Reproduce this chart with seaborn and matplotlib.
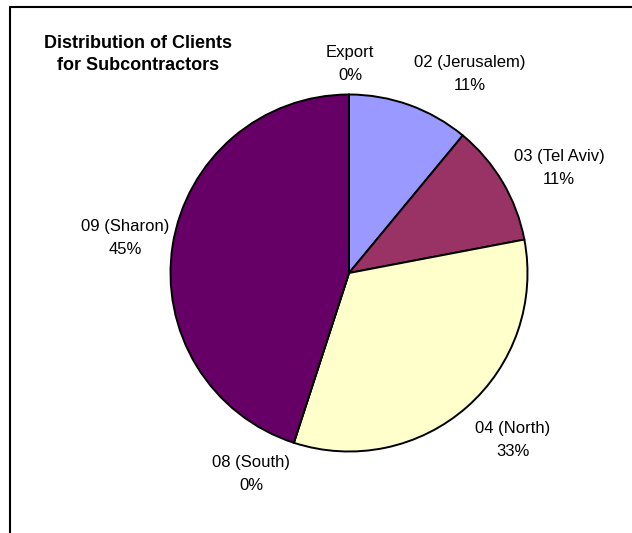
import matplotlib
matplotlib.use("Agg")
import matplotlib.pyplot as plt
import seaborn as sns
from matplotlib.lines import Line2D

# ---- data ----
categories = ["02 (Jerusalem)", "03 (Tel Aviv)", "04 (North)", "08 (South)", "09 (Sharon)", "Export"]
shares = [11, 11, 33, 0, 45, 0]
pct_labels = ["11%", "11%", "33%", "0%", "45%", "0%"]
title_lines = ["Distribution of Clients", "for Subcontractors"]

# ---- styles / positions (pixels from the top-left corner) ----
colors = ["#9999FF", "#993366", "#FFFFCC", "#CCFFFF", "#660066", "#FF8080"]
label_pos = [(470, 63), (559, 156), (513, 429), (251, 462), (125, 227), (350, 52)]
line_gap = 23
W, H = 632, 533
center_px = (349, 273)
radius_px = 178.5

sns.set_theme(style="white")
plt.rcParams['font.family'] = ['Liberation Sans', 'DejaVu Sans']

fig = plt.figure(figsize=(W / 100, H / 100), dpi=100)
fig.patch.set_facecolor("white")
ax = fig.add_axes([0, 0, 1, 1])

ax.pie(shares, colors=colors, startangle=90, counterclock=False,
       center=(center_px[0], H - center_px[1]), radius=radius_px,
       wedgeprops=dict(edgecolor="black", linewidth=1.4), frame=True)
ax.set_xlim(0, W)
ax.set_ylim(0, H)
ax.set_aspect("equal")
ax.axis("off")

for name, pct, (x, y) in zip(categories, pct_labels, label_pos):
    ax.text(x, H - y, name, ha="center", va="center", fontsize=12, color="black")
    ax.text(x, H - y - line_gap, pct, ha="center", va="center", fontsize=12, color="black")

for i, line in enumerate(title_lines):
    ax.text(138, H - 43 - i * line_gap, line, ha="center", va="center",
            fontsize=13, fontweight="bold", color="black")

# chart-area frame (top and left edges visible)
fig.add_artist(Line2D([10 / W, 1], [1 - 7 / H, 1 - 7 / H], transform=fig.transFigure,
                      color="black", lw=1.5))
fig.add_artist(Line2D([10 / W, 10 / W], [0, 1 - 7 / H], transform=fig.transFigure,
                      color="black", lw=1.5))

fig.savefig("out.png", dpi=100, facecolor="white")
